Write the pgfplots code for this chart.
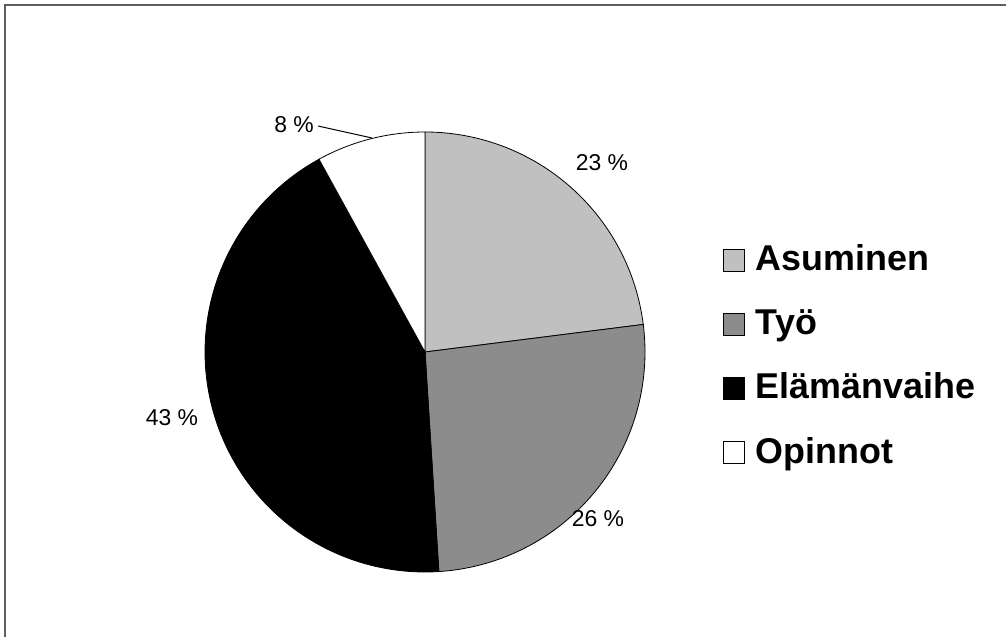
\documentclass[border=0pt]{standalone}
\usepackage{pgfplots}
\pgfplotsset{compat=1.18}
\usepackage{fontspec}
\setmainfont{Liberation Sans}

\definecolor{asum}{RGB}{192,192,192}
\definecolor{tyo}{RGB}{140,140,140}
\definecolor{elam}{RGB}{0,0,0}
\definecolor{opin}{RGB}{255,255,255}
\definecolor{frame}{RGB}{95,95,95}

% pie centre and radius in picture pixels (y up)
\def\cx{425}
\def\cy{285}
\def\rr{220}

\begin{document}
\begin{tikzpicture}
\begin{axis}[
  width=1006bp, height=637bp, scale only axis,
  xmin=0, xmax=1006, ymin=0, ymax=637,
  hide axis, clip=false,
  legend image code/.code={\draw[#1,draw=black,line width=0.8bp] (0bp,-9bp) rectangle (21bp,13bp);},
  legend style={draw=none, fill=none, at={(axis cs:723,392)}, anchor=north west,
    inner sep=0pt, outer sep=0pt, row sep=30bp,
    font=\fontsize{36}{40}\selectfont\bfseries,
    nodes={inner sep=0pt, text height=26bp, text depth=8bp},
    /tikz/every odd column/.append style={column sep=11bp}},
  legend cell align=left,
]
% cumulative shares in percent, clockwise from 12 o'clock
\addplot[fill=asum, draw=black, line width=0.8bp, domain=0:23, samples=80]
  ({\cx+\rr*sin(3.6*x)}, {\cy+\rr*cos(3.6*x)}) -- (axis cs:\cx,\cy) -- cycle;
\addlegendentry{Asuminen}
\addplot[fill=tyo, draw=black, line width=0.8bp, domain=23:49, samples=80]
  ({\cx+\rr*sin(3.6*x)}, {\cy+\rr*cos(3.6*x)}) -- (axis cs:\cx,\cy) -- cycle;
\addlegendentry{Työ}
\addplot[fill=elam, draw=black, line width=0.8bp, domain=49:92, samples=120]
  ({\cx+\rr*sin(3.6*x)}, {\cy+\rr*cos(3.6*x)}) -- (axis cs:\cx,\cy) -- cycle;
\addlegendentry{Elämänvaihe}
\addplot[fill=opin, draw=black, line width=0.8bp, domain=92:100, samples=40]
  ({\cx+\rr*sin(3.6*x)}, {\cy+\rr*cos(3.6*x)}) -- (axis cs:\cx,\cy) -- cycle;
\addlegendentry{Opinnot}

\node[font=\fontsize{23}{26}\selectfont] at (axis cs:602,474) {23 \%};
\node[font=\fontsize{23}{26}\selectfont] at (axis cs:598,118) {26 \%};
\node[font=\fontsize{23}{26}\selectfont] at (axis cs:172,219) {43 \%};
\node[font=\fontsize{23}{26}\selectfont] at (axis cs:294,512) {8 \%};
\draw[black, line width=1bp] (axis cs:318,511) -- (axis cs:372,499);

% frame of the original figure
\draw[frame, line width=2bp] (axis cs:4.5,0) -- (axis cs:4.5,631.5) -- (axis cs:1006,631.5);
\coordinate (bl) at (axis cs:0,0);
\coordinate (tr) at (axis cs:1006,637);
\end{axis}
\pgfresetboundingbox
\useasboundingbox (bl) rectangle (tr);
\end{tikzpicture}
\end{document}
